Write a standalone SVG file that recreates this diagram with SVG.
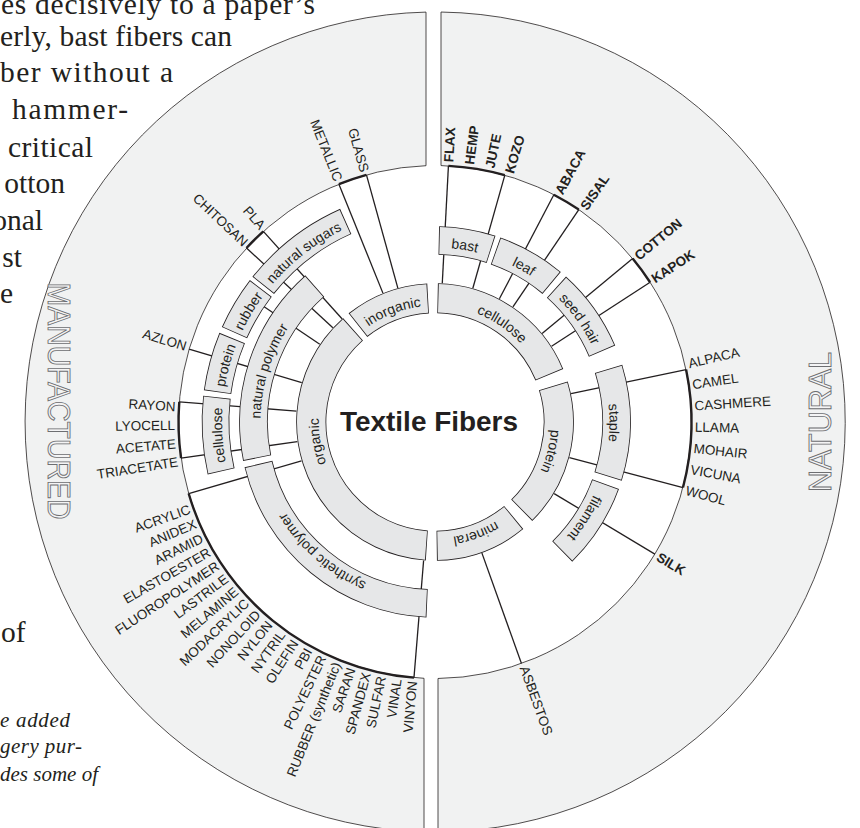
<svg xmlns="http://www.w3.org/2000/svg" width="860" height="828" viewBox="0 0 860 828">
<style>
.pg{font-family:"Liberation Serif",serif;font-size:29.5px;fill:#231f20}
.pe{text-anchor:end}
.pgi{font-family:"Liberation Serif",serif;font-style:italic;font-size:21px;fill:#231f20}
.band{fill:#f1f2f2;stroke:#231f20;stroke-width:0.8}
.big{font-family:"Liberation Sans",sans-serif;font-size:31px;fill:#f4f4f5;stroke:#6d6e71;stroke-width:0.9;text-anchor:middle}
.ln{stroke:#231f20;stroke-width:1.3}
.br{fill:none;stroke:#231f20;stroke-width:2.4}
.bo{fill:none;stroke:#231f20}
.bf{fill:none;stroke:#e6e7e8}
.bl{font-family:"Liberation Sans",sans-serif;font-size:14px;fill:#231f20;text-anchor:middle}
.lf{font-family:"Liberation Sans",sans-serif;font-size:13.5px;fill:#231f20}
.b{font-weight:bold}
.l{text-anchor:end}
.title{font-family:"Liberation Sans",sans-serif;font-weight:bold;font-size:28.5px;fill:#231f20;text-anchor:middle}
</style>
<defs>
<path id="p1" d="M0,-116.25 A116.25,116.25 0 1 1 0,116.25 A116.25,116.25 0 1 1 0,-116.25"/>
<path id="p2" d="M0,-174.5 A174.5,174.5 0 1 1 0,174.5 A174.5,174.5 0 1 1 0,-174.5"/>
<path id="p3" d="M0,-213 A213,213 0 1 1 0,213 A213,213 0 1 1 0,-213"/>
</defs>
<rect width="860" height="828" fill="#ffffff"/>
<g id="page-text">
<text class="pg" x="1" y="13.5" textLength="314" lengthAdjust="spacing">es decisively to a paper’s</text>
<text class="pg" x="0" y="45.5" textLength="232" lengthAdjust="spacing">erly, bast fibers can</text>
<text class="pg" x="0" y="82" textLength="173" lengthAdjust="spacing">ber without a</text>
<text class="pg" x="12" y="119" textLength="116" lengthAdjust="spacing">hammer-</text>
<text class="pg" x="8" y="156.5" textLength="85" lengthAdjust="spacing">critical</text>
<text class="pg pe" x="65" y="193">otton</text>
<text class="pg pe" x="43" y="230">onal</text>
<text class="pg pe" x="22" y="266.5">st</text>
<text class="pg pe" x="13" y="303">e</text>
<text class="pg" x="1" y="641.5">of</text>
<text class="pgi" x="0" y="727" textLength="70" lengthAdjust="spacing">e added</text>
<text class="pgi" x="0" y="753" textLength="82" lengthAdjust="spacing">gery pur-</text>
<text class="pgi" x="0" y="781" textLength="98" lengthAdjust="spacing">des some of</text>
</g>
<g id="band-manufactured">
<path class="band" d="M426,12.1 A410,410 0 0 0 424,831.85 L424,678.3 A256.5,256.5 0 0 1 426,165.7 Z"/>
<text class="big" transform="translate(58.5,401) rotate(90)" dy="0.35em" textLength="237" lengthAdjust="spacingAndGlyphs">MANUFACTURED</text>
</g>
<g id="band-natural">
<path class="band" d="M441,12.04 A410,410 0 0 1 438,831.99 L438,678.48 A256.5,256.5 0 0 0 441,165.57 Z"/>
<text class="big" transform="translate(820,422) rotate(-90)" dy="0.35em" textLength="140" lengthAdjust="spacingAndGlyphs">NATURAL</text>
</g>
<g transform="translate(435,422)">
<g id="connectors">
<g class="ln">
<line x1="0" y1="-256.5" x2="0" y2="-139" transform="rotate(3)"/>
<line x1="0" y1="-256.5" x2="0" y2="-139" transform="rotate(15.8)"/>
<line x1="0" y1="-256.5" x2="0" y2="-139" transform="rotate(27.6)"/>
<line x1="0" y1="-256.5" x2="0" y2="-139" transform="rotate(34.1)"/>
<line x1="0" y1="-256.5" x2="0" y2="-139" transform="rotate(50.4)"/>
<line x1="0" y1="-256.5" x2="0" y2="-139" transform="rotate(57)"/>
<line x1="0" y1="-256.5" x2="0" y2="-139" transform="rotate(78.2)"/>
<line x1="0" y1="-256.5" x2="0" y2="-139" transform="rotate(104.8)"/>
<line x1="0" y1="-256.5" x2="0" y2="-139" transform="rotate(121)"/>
<line x1="0" y1="-256.5" x2="0" y2="-139" transform="rotate(160.3)"/>
<line x1="0" y1="-256.5" x2="0" y2="-139" transform="rotate(338)"/>
<line x1="0" y1="-256.5" x2="0" y2="-139" transform="rotate(344.5)"/>
<line x1="0" y1="-256.5" x2="0" y2="-139" transform="rotate(318)"/>
<line x1="0" y1="-256.5" x2="0" y2="-139" transform="rotate(312.7)"/>
<line x1="0" y1="-256.5" x2="0" y2="-139" transform="rotate(286.5)"/>
<line x1="0" y1="-256.5" x2="0" y2="-139" transform="rotate(274.5)"/>
<line x1="0" y1="-256.5" x2="0" y2="-139" transform="rotate(261.9)"/>
<line x1="0" y1="-256.5" x2="0" y2="-139" transform="rotate(253.8)"/>
<line x1="0" y1="-256.5" x2="0" y2="-139" transform="rotate(184.7)"/>
<line x1="0" y1="-207" x2="0" y2="-139" transform="rotate(304)"/>
</g>
<g class="br">
<circle r="256.5" pathLength="360" stroke-dasharray="12.8 347.2" transform="rotate(-87)"/>
<circle r="256.5" pathLength="360" stroke-dasharray="6.5 353.5" transform="rotate(-62.4)"/>
<circle r="256.5" pathLength="360" stroke-dasharray="6.6 353.4" transform="rotate(-39.6)"/>
<circle r="256.5" pathLength="360" stroke-dasharray="26.6 333.4" transform="rotate(-11.8)"/>
<circle r="256.5" pathLength="360" stroke-dasharray="6.5 353.5" transform="rotate(248)"/>
<circle r="256.5" pathLength="360" stroke-dasharray="5.3 354.7" transform="rotate(222.7)"/>
<circle r="256.5" pathLength="360" stroke-dasharray="12.6 347.4" transform="rotate(171.9)"/>
<circle r="256.5" pathLength="360" stroke-dasharray="69.1 290.9" transform="rotate(94.7)"/>
</g>
</g>
<g id="n-cellulose-natural">
<circle class="bo" r="123.75" stroke-width="30.1" pathLength="360" stroke-dasharray="66.3 293.7" transform="rotate(-88.8)"/>
<circle class="bf" r="123.75" stroke-width="28.5" pathLength="360" stroke-dasharray="65.56 294.44" transform="rotate(-88.43)"/>
<text class="bl"><textPath href="#p1" startOffset="9.54%">cellulose</textPath></text>
</g>
<g id="n-protein-natural">
<circle class="bo" r="123.75" stroke-width="30.1" pathLength="360" stroke-dasharray="62.5 297.5" transform="rotate(-17)"/>
<circle class="bf" r="123.75" stroke-width="28.5" pathLength="360" stroke-dasharray="61.76 298.24" transform="rotate(-16.63)"/>
<text class="bl"><textPath href="#p1" startOffset="28.96%">protein</textPath></text>
</g>
<g id="n-mineral">
<circle class="bo" r="123.75" stroke-width="30.1" pathLength="360" stroke-dasharray="38.7 321.3" transform="rotate(50.5)"/>
<circle class="bf" r="123.75" stroke-width="28.5" pathLength="360" stroke-dasharray="37.96 322.04" transform="rotate(50.87)"/>
<text class="bl"><textPath href="#p1" startOffset="44.4%">mineral</textPath></text>
</g>
<g id="n-organic">
<circle class="bo" r="123.75" stroke-width="30.1" pathLength="360" stroke-dasharray="134.7 225.3" transform="rotate(93.8)"/>
<circle class="bf" r="123.75" stroke-width="28.5" pathLength="360" stroke-dasharray="133.96 226.04" transform="rotate(94.17)"/>
<text class="bl"><textPath href="#p1" startOffset="72.36%">organic</textPath></text>
</g>
<g id="n-inorganic">
<circle class="bo" r="123.75" stroke-width="30.1" pathLength="360" stroke-dasharray="35.3 324.7" transform="rotate(231.5)"/>
<circle class="bf" r="123.75" stroke-width="28.5" pathLength="360" stroke-dasharray="34.56 325.44" transform="rotate(231.87)"/>
<text class="bl"><textPath href="#p1" startOffset="94.21%">inorganic</textPath></text>
</g>
<g id="n-bast">
<circle class="bo" r="181.5" stroke-width="28.6" pathLength="360" stroke-dasharray="16.8 343.2" transform="rotate(-88.8)"/>
<circle class="bf" r="181.5" stroke-width="27" pathLength="360" stroke-dasharray="16.3 343.7" transform="rotate(-88.55)"/>
<text class="bl"><textPath href="#p2" startOffset="2.667%">bast</textPath></text>
</g>
<g id="n-leaf">
<circle class="bo" r="181.5" stroke-width="28.6" pathLength="360" stroke-dasharray="20.5 339.5" transform="rotate(-70.5)"/>
<circle class="bf" r="181.5" stroke-width="27" pathLength="360" stroke-dasharray="20 340" transform="rotate(-70.25)"/>
<text class="bl"><textPath href="#p2" startOffset="8.264%">leaf</textPath></text>
</g>
<g id="n-seed-hair">
<circle class="bo" r="181.5" stroke-width="28.6" pathLength="360" stroke-dasharray="25 335" transform="rotate(-48)"/>
<circle class="bf" r="181.5" stroke-width="27" pathLength="360" stroke-dasharray="24.5 335.5" transform="rotate(-47.75)"/>
<text class="bl"><textPath href="#p2" startOffset="15.14%">seed hair</textPath></text>
</g>
<g id="n-staple">
<circle class="bo" r="181.5" stroke-width="28.6" pathLength="360" stroke-dasharray="34.5 325.5" transform="rotate(-17)"/>
<circle class="bf" r="181.5" stroke-width="27" pathLength="360" stroke-dasharray="34 326" transform="rotate(-16.75)"/>
<text class="bl"><textPath href="#p2" startOffset="25.07%">staple</textPath></text>
</g>
<g id="n-filament">
<circle class="bo" r="181.5" stroke-width="28.6" pathLength="360" stroke-dasharray="25.5 334.5" transform="rotate(20)"/>
<circle class="bf" r="181.5" stroke-width="27" pathLength="360" stroke-dasharray="25 335" transform="rotate(20.25)"/>
<text class="bl"><textPath href="#p2" startOffset="34.1%">filament</textPath></text>
</g>
<g id="n-synthetic-polymer">
<circle class="bo" r="181.5" stroke-width="28.6" pathLength="360" stroke-dasharray="74.1 285.9" transform="rotate(92.5)"/>
<circle class="bf" r="181.5" stroke-width="27" pathLength="360" stroke-dasharray="73.6 286.4" transform="rotate(92.75)"/>
<text class="bl"><textPath href="#p2" startOffset="61.39%">synthetic polymer</textPath></text>
</g>
<g id="n-natural-polymer">
<circle class="bo" r="181.5" stroke-width="28.6" pathLength="360" stroke-dasharray="60 300" transform="rotate(168.5)"/>
<circle class="bf" r="181.5" stroke-width="27" pathLength="360" stroke-dasharray="59.5 300.5" transform="rotate(168.75)"/>
<text class="bl"><textPath href="#p2" startOffset="79.72%">natural polymer</textPath></text>
</g>
<g id="n-cellulose-manufactured">
<circle class="bo" r="219.5" stroke-width="27.6" pathLength="360" stroke-dasharray="19.5 340.5" transform="rotate(167)"/>
<circle class="bf" r="219.5" stroke-width="26" pathLength="360" stroke-dasharray="19.08 340.92" transform="rotate(167.21)"/>
<text class="bl"><textPath href="#p3" startOffset="74.03%">cellulose</textPath></text>
</g>
<g id="n-protein-manufactured">
<circle class="bo" r="219.5" stroke-width="27.6" pathLength="360" stroke-dasharray="14.7 345.3" transform="rotate(187.8)"/>
<circle class="bf" r="219.5" stroke-width="26" pathLength="360" stroke-dasharray="14.28 345.72" transform="rotate(188.01)"/>
<text class="bl"><textPath href="#p3" startOffset="79.21%">protein</textPath></text>
</g>
<g id="n-rubber">
<circle class="bo" r="219.5" stroke-width="27.6" pathLength="360" stroke-dasharray="13.5 346.5" transform="rotate(204)"/>
<circle class="bf" r="219.5" stroke-width="26" pathLength="360" stroke-dasharray="13.08 346.92" transform="rotate(204.21)"/>
<text class="bl"><textPath href="#p3" startOffset="83.54%">rubber</textPath></text>
</g>
<g id="n-natural-sugars">
<circle class="bo" r="219.5" stroke-width="27.6" pathLength="360" stroke-dasharray="27.5 332.5" transform="rotate(218.5)"/>
<circle class="bf" r="219.5" stroke-width="26" pathLength="360" stroke-dasharray="27.08 332.92" transform="rotate(218.71)"/>
<text class="bl"><textPath href="#p3" startOffset="89.51%">natural sugars</textPath></text>
</g>
<g id="leaves-natural">
<text class="lf b" transform="rotate(3) translate(0,-260) rotate(-90)" dy="0.35em">FLAX</text>
<text class="lf b" transform="rotate(7.6) translate(0,-260) rotate(-90)" dy="0.35em">HEMP</text>
<text class="lf b" transform="rotate(12.1) translate(0,-260) rotate(-90)" dy="0.35em">JUTE</text>
<text class="lf b" transform="rotate(16.6) translate(0,-260) rotate(-90)" dy="0.35em">KOZO</text>
<text class="lf b" transform="rotate(28.4) translate(0,-260) rotate(-90)" dy="0.35em">ABACA</text>
<text class="lf b" transform="rotate(34.8) translate(0,-260) rotate(-90)" dy="0.35em">SISAL</text>
<text class="lf b" transform="rotate(50.7) translate(0,-260) rotate(-90)" dy="0.35em">COTTON</text>
<text class="lf b" transform="rotate(56.8) translate(0,-260) rotate(-90)" dy="0.35em">KAPOK</text>
<text class="lf" transform="rotate(77) translate(0,-260) rotate(-90)" dy="0.35em">ALPACA</text>
<text class="lf" transform="rotate(81.7) translate(0,-260) rotate(-90)" dy="0.35em">CAMEL</text>
<text class="lf" transform="rotate(86.4) translate(0,-260) rotate(-90)" dy="0.35em">CASHMERE</text>
<text class="lf" transform="rotate(91.1) translate(0,-260) rotate(-90)" dy="0.35em">LLAMA</text>
<text class="lf" transform="rotate(95.8) translate(0,-260) rotate(-90)" dy="0.35em">MOHAIR</text>
<text class="lf" transform="rotate(100.5) translate(0,-260) rotate(-90)" dy="0.35em">VICUNA</text>
<text class="lf" transform="rotate(105.2) translate(0,-260) rotate(-90)" dy="0.35em">WOOL</text>
<text class="lf b" transform="rotate(121) translate(0,-260) rotate(-90)" dy="0.35em">SILK</text>
<text class="lf" transform="rotate(160) translate(0,-260) rotate(-90)" dy="0.35em">ASBESTOS</text>
</g>
<g id="leaves-manufactured">
<text class="lf l" transform="rotate(338.2) translate(0,-260) rotate(90)" dy="0.35em">METALLIC</text>
<text class="lf l" transform="rotate(344.3) translate(0,-260) rotate(90)" dy="0.35em">GLASS</text>
<text class="lf l" transform="rotate(318.5) translate(0,-260) rotate(90)" dy="0.35em">PLA</text>
<text class="lf l" transform="rotate(313.3) translate(0,-260) rotate(90)" dy="0.35em">CHITOSAN</text>
<text class="lf l" transform="rotate(286.9) translate(0,-260) rotate(90)" dy="0.35em">AZLON</text>
<text class="lf l" transform="rotate(273.4) translate(0,-260) rotate(90)" dy="0.35em">RAYON</text>
<text class="lf l" transform="rotate(269.3) translate(0,-260) rotate(90)" dy="0.35em">LYOCELL</text>
<text class="lf l" transform="rotate(265.2) translate(0,-260) rotate(90)" dy="0.35em">ACETATE</text>
<text class="lf l" transform="rotate(261.2) translate(0,-260) rotate(90)" dy="0.35em">TRIACETATE</text>
<text class="lf l" transform="rotate(250.5) translate(0,-260) rotate(90)" dy="0.35em">ACRYLIC</text>
<text class="lf l" transform="rotate(247.05) translate(0,-260) rotate(90)" dy="0.35em">ANIDEX</text>
<text class="lf l" transform="rotate(243.6) translate(0,-260) rotate(90)" dy="0.35em">ARAMID</text>
<text class="lf l" transform="rotate(240.2) translate(0,-260) rotate(90)" dy="0.35em">ELASTOESTER</text>
<text class="lf l" transform="rotate(236.7) translate(0,-260) rotate(90)" dy="0.35em">FLUOROPOLYMER</text>
<text class="lf l" transform="rotate(233.3) translate(0,-260) rotate(90)" dy="0.35em">LASTRILE</text>
<text class="lf l" transform="rotate(229.8) translate(0,-260) rotate(90)" dy="0.35em">MELAMINE</text>
<text class="lf l" transform="rotate(226.4) translate(0,-260) rotate(90)" dy="0.35em">MODACRYLIC</text>
<text class="lf l" transform="rotate(222.9) translate(0,-260) rotate(90)" dy="0.35em">NONOLOID</text>
<text class="lf l" transform="rotate(219.5) translate(0,-260) rotate(90)" dy="0.35em">NYLON</text>
<text class="lf l" transform="rotate(216) translate(0,-260) rotate(90)" dy="0.35em">NYTRIL</text>
<text class="lf l" transform="rotate(212.6) translate(0,-260) rotate(90)" dy="0.35em">OLEFIN</text>
<text class="lf l" transform="rotate(209.1) translate(0,-260) rotate(90)" dy="0.35em">PBI</text>
<text class="lf l" transform="rotate(205.7) translate(0,-260) rotate(90)" dy="0.35em">POLYESTER</text>
<text class="lf l" transform="rotate(202.2) translate(0,-260) rotate(90)" dy="0.35em">RUBBER (synthetic)</text>
<text class="lf l" transform="rotate(198.8) translate(0,-260) rotate(90)" dy="0.35em">SARAN</text>
<text class="lf l" transform="rotate(195.3) translate(0,-260) rotate(90)" dy="0.35em">SPANDEX</text>
<text class="lf l" transform="rotate(191.9) translate(0,-260) rotate(90)" dy="0.35em">SULFAR</text>
<text class="lf l" transform="rotate(188.4) translate(0,-260) rotate(90)" dy="0.35em">VINAL</text>
<text class="lf l" transform="rotate(185) translate(0,-260) rotate(90)" dy="0.35em">VINYON</text>
</g>
</g>
<g id="n-textile-fibers">
<text class="title" x="429" y="431" textLength="178" lengthAdjust="spacingAndGlyphs">Textile Fibers</text>
</g>
</svg>
